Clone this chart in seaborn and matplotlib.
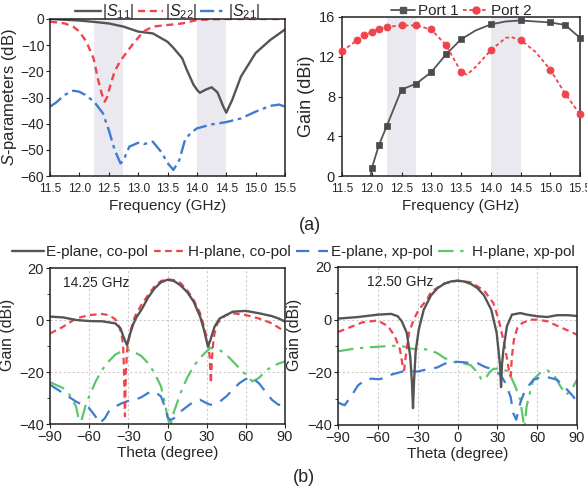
import matplotlib
matplotlib.use("Agg")
import matplotlib.pyplot as plt
import seaborn as sns
from matplotlib.lines import Line2D
from matplotlib.ticker import MultipleLocator

# ---------------- data ----------------
s11_f = [11.5, 11.75, 12.0, 12.25, 12.5, 12.75, 13.0, 13.1, 13.25, 13.5, 13.6, 13.75, 13.83, 13.94,
         14.0, 14.05, 14.15, 14.25, 14.35, 14.45, 14.5, 14.6, 14.75, 15.0, 15.25, 15.5]
s11_db = [0, -0.3, -0.6, -1.1, -1.7, -2.9, -4.8, -5.1, -5.5, -8.7, -11, -15, -19.5, -25,
          -27, -28.2, -27, -26.1, -28, -33.5, -35.8, -31, -22, -13, -8, -4]

s22_f = [11.5, 11.75, 11.9, 12.0, 12.12, 12.24, 12.32, 12.38, 12.43, 12.47, 12.52, 12.6, 12.69,
         12.75, 12.92, 13.09, 13.25, 13.5, 13.75, 14.0, 14.25, 14.5, 15.0, 15.5]
s22_db = [-1.0, -1.7, -3.0, -4.8, -8.7, -15, -23.3, -28.5, -31.6, -30, -25.9, -20, -16.3,
          -14.4, -9.3, -4.8, -2.9, -2.3, -1.7, -0.4, -0.1, 0, 0, 0]

s21_f = [11.5, 11.6, 11.75, 11.9, 12.0, 12.1, 12.25, 12.4, 12.5, 12.6, 12.7, 12.75, 12.85, 13.0,
         13.1, 13.25, 13.4, 13.5, 13.6, 13.7, 13.8, 13.9, 14.0, 14.25, 14.5, 14.75, 15.0, 15.25,
         15.4, 15.5]
s21_db = [-33.5, -32, -29, -27.4, -27.8, -29, -31.6, -36, -42.4, -50, -55.2, -54, -48.8, -47.3,
          -47.8, -46.9, -51, -55, -57.7, -54, -46, -43.5, -41.8, -40.3, -39.4, -38, -35.4, -33.2,
          -32.7, -33.5]

port1_f = [12.0, 12.12, 12.25, 12.5, 12.75, 13.0, 13.25, 13.5, 14.0, 14.5, 15.0, 15.25, 15.5]
port1_g = [0.77, 3.1, 5.0, 8.7, 9.3, 10.45, 12.25, 13.75, 15.25, 15.65, 15.45, 15.2, 13.9]
port1_line_f = [11.98, 12.0, 12.12, 12.25, 12.5, 12.75, 13.0, 13.25, 13.5, 13.75, 14.0, 14.25,
                14.5, 15.0, 15.25, 15.5]
port1_line_g = [0.0, 0.77, 3.1, 5.0, 8.7, 9.3, 10.45, 12.25, 13.75, 14.66, 15.25, 15.55,
                15.65, 15.45, 15.2, 13.9]

port2_f = [11.5, 11.75, 11.875, 12.0, 12.12, 12.25, 12.5, 12.75, 13.0, 13.25, 13.5, 14.0, 14.5,
           15.0, 15.25, 15.5]
port2_g = [12.55, 13.65, 14.15, 14.5, 14.8, 15.0, 15.15, 15.15, 14.75, 13.15, 10.5, 12.65, 13.7,
           10.7, 8.3, 6.2]
port2_line_f = [11.5, 11.75, 11.875, 12.0, 12.12, 12.25, 12.5, 12.75, 13.0, 13.25, 13.5, 13.6,
                13.75, 14.0, 14.25, 14.35, 14.5, 14.75, 15.0, 15.25, 15.5]
port2_line_g = [12.55, 13.65, 14.15, 14.5, 14.8, 15.0, 15.15, 15.15, 14.75, 13.15, 10.5, 10.2,
                11.0, 12.65, 13.9, 13.97, 13.7, 12.5, 10.7, 8.3, 6.2]

# 14.25 GHz patterns
a_eco_t = [-90, -80, -70, -60, -50, -40, -36, -33.7, -31, -28.6, -26, -23.5, -20, -15, -10, -5,
           0, 5, 10, 15, 20, 25, 28, 31, 33, 36, 40, 50, 60, 70, 80, 85, 90]
a_eco_g = [1.3, 1.0, 0, -0.4, -0.5, -1.3, -3.2, -6.5, -9.7, -5.2, -1.3, 1.3, 3.9, 8.5, 12.1,
           14.5, 15.5, 15.0, 13.3, 10.8, 7.1, 1.3, -3.9, -10.3, -7.5, -2.6, 0.6, 3.2, 3.5, 2.6,
           1.5, 0.6, -0.6]
a_hco_t = [-90, -80, -70, -60, -50, -45, -40, -37, -35, -34, -33.3, -32.6, -31.9, -31, -30, -28,
           -25, -20, -15, -10, -5, 0, 5, 10, 15, 20, 25, 28, 31, 32.3, 33.2, 34.2, 35, 36, 38,
           42, 45, 50, 60, 70, 80, 90]
a_hco_g = [-5.2, -2.6, 0.6, 1.9, 2.3, 1.9, 0.3, -2.5, -6, -10, -20, -37, -20, -12, -8, -3.5,
           1.3, 5.8, 9.5, 12.9, 15, 15.7, 15.3, 14.2, 11.5, 7.7, 2.6, -2.6, -9, -14, -24.3, -14,
           -9, -5.2, -1.5, 1.0, 1.9, 2.6, 1.9, 0.6, -1.3, -4.5]
a_exp_t = [-90, -80, -70, -60, -55, -52, -48, -45, -40, -35, -30, -25, -20, -15, -10, -5, -2, 0,
           2, 5, 10, 15, 20, 25, 30, 33, 40, 45, 50, 55, 60, 65, 70, 75, 80, 85, 88, 90]
a_exp_g = [-24.9, -28.1, -31.4, -33.9, -37.2, -39.7, -37.8, -35.2, -33.3, -32, -31.1, -30.7,
           -29.7, -28.1, -27.5, -29.4, -33.3, -37.2, -38.5, -37.8, -35.2, -33.3, -31.4, -30.7,
           -32, -32.6, -31.4, -29.4, -26.8, -24.3, -22.7, -22.3, -24.3, -27.5, -30.7, -32.6,
           -32.6, -30.7]
a_hxp_t = [-90, -80, -75, -70, -67, -65, -62, -60, -55, -50, -45, -40, -35, -30, -25, -20, -15,
           -10, -5, -2, 0, 2, 5, 10, 15, 20, 25, 30, 33, 40, 45, 50, 55, 60, 65, 70, 75, 80, 85,
           90]
a_hxp_g = [-23.9, -26.2, -28.8, -33.3, -41, -37, -31.5, -29.4, -23.6, -19.1, -15.9, -13.3, -12,
           -11.6, -12.4, -13.9, -16.5, -20.4, -25.5, -32, -37.2, -41, -35.2, -28.1, -22.3,
           -17.8, -14.6, -12, -10.7, -11.6, -13.3, -15.9, -18.5, -21, -23.6, -22.3, -19.7,
           -17.8, -16.8, -15.9]

# 12.50 GHz patterns
b_eco_t = [-90, -75, -60, -50, -45, -42, -38.2, -35.6, -34.3, -33.5, -32.8, -31.5, -29.2, -25.4,
           -20, -15, -10, -5, 0, 5, 10, 15, 20, 25.4, 29.5, 32.1, 32.8, 33.5, 34.6, 37.2, 41,
           47.3, 52.4, 60, 67.6, 75, 83, 90]
b_eco_g = [0.4, 1.0, 1.9, 2.2, 1.3, -0.6, -5, -14, -24, -33.6, -24, -12, -3.8, 3.8, 9.2, 12,
           13.6, 14.5, 14.8, 14.5, 13.6, 12, 9.2, 3.8, -5, -17.7, -25.6, -17, -11.4, -2.5, 1.9,
           2.5, 1.9, 1.3, 1.0, 1.7, 1.7, 1.4]
b_hco_t = [-90, -71.5, -60, -52.3, -47.2, -43.3, -41.2, -40.2, -38.5, -36.5, -33, -29.2, -23,
           -20, -10, 0, 10, 20, 27, 31, 34.5, 37, 39, 40, 41, 42.5, 45, 48.7, 55, 60, 67.6, 75,
           82.6, 90]
b_hco_g = [-4.7, -1, -0.3, -2.5, -6.3, -11.4, -17.7, -19.2, -12, -5, 0, 3.8, 7.6, 10.5, 13.8,
           14.8, 14.2, 11.1, 6.3, 0, -7.6, -14, -20, -21.5, -14, -7.6, -3.2, -1.3, 0, 0, -0.6,
           -2.3, -4, -5.7]
b_exp_t = [-90, -85, -80, -75, -70, -65, -60, -55, -50, -45, -40, -35, -30, -25, -20, -15, -10,
           -5, 0, 5, 10, 15, 20, 27, 32.5, 36, 40, 42, 44.2, 47.3, 51, 57.4, 62, 67.5, 75, 82.6,
           86, 90]
b_exp_g = [-31.5, -32.5, -29, -25, -23, -22.4, -22.6, -22.3, -20.9, -20.2, -19.5, -19.6, -19.7,
           -19.1, -18.7, -18.1, -16.8, -16, -16, -16.2, -16.5, -16.5, -17.8, -19, -21, -24,
           -29.3, -35.5, -38, -31.6, -26.6, -22.8, -22, -21.8, -22.8, -26.6, -28.5, -31]
b_hxp_t = [-90, -80, -70, -60, -50, -40, -35, -30, -25, -20, -15, -10, -5, 0, 5, 10, 14, 18,
           20.6, 24, 27, 32, 38.4, 43.5, 47.3, 49.8, 50.5, 52, 57, 62, 67.5, 72.5, 77.5, 82,
           86.5, 90]
b_hxp_g = [-12, -11.2, -10.6, -10.3, -9.9, -10.2, -11, -11.2, -11.2, -11.7, -12.8, -14.5, -15.7,
           -16.4, -16.6, -17.3, -19.5, -22.6, -22.8, -20, -18.7, -18.5, -19.7, -25.3, -30.4,
           -39.3, -41, -33, -22.8, -20.3, -19.2, -20.9, -25.3, -28.5, -26, -22.8]

freq_ticks = [11.5, 12.0, 12.5, 13.0, 13.5, 14.0, 14.5, 15.0, 15.5]
freq_ticklabels = ["11.5", "12.0", "12.5", "13.0", "13.5", "14.0", "14.5", "15.0", "15.5"]
theta_ticks = [-90, -60, -30, 0, 30, 60, 90]
bands = [(12.25, 12.75), (14.0, 14.5)]
pattern_legend = ["E-plane, co-pol", "H-plane, co-pol", "E-plane, xp-pol", "H-plane, xp-pol"]
sparam_legend = [r"$|\mathit{S}_{11}|$", r"$|\mathit{S}_{22}|$", r"$|\mathit{S}_{21}|$"]

# ---------------- style ----------------
sns.set_style("ticks")
plt.rcParams["font.family"] = ["Liberation Sans", "DejaVu Sans"]
plt.rcParams["mathtext.fontset"] = "custom"
plt.rcParams["mathtext.rm"] = "Liberation Sans"
plt.rcParams["mathtext.it"] = "Liberation Sans:italic"
plt.rcParams["axes.edgecolor"] = "#222222"
plt.rcParams["axes.linewidth"] = 1.1

GRAY = "#555555"
RED = "#f0434b"
BLUE = "#3d7cd0"
GREEN = "#5cc66b"
SHADE = "#e9e9ef"

LS_RED = (0, (3, 2))
LS_BLUE_S = (0, (6, 2, 1.5, 2))
LS_BLUE = (0, (6, 4))
LS_GREEN = (0, (7, 3, 1.5, 3))

fig = plt.figure(figsize=(5.87, 4.95), dpi=100)
W, H = 587.0, 495.0


def add_ax(l, r, t, b):
    return fig.add_axes([l / W, 1 - b / H, (r - l) / W, (b - t) / H])


def draw(ax, x, y, color, ls, lw):
    sns.lineplot(x=x, y=y, ax=ax, color=color, linestyle=ls, linewidth=lw,
                 estimator=None, sort=False)


# ---------- (a) left: S-parameters ----------
ax1 = add_ax(50, 285, 19, 176)
for lo, hi in bands:
    ax1.axvspan(lo, hi, color=SHADE, zorder=0, lw=0)
draw(ax1, s11_f, s11_db, GRAY, "-", 1.7)
draw(ax1, s22_f, s22_db, RED, LS_RED, 1.7)
draw(ax1, s21_f, s21_db, BLUE, LS_BLUE_S, 1.7)
ax1.set_xlim(11.5, 15.5)
ax1.set_ylim(-60, 0)
ax1.set_xticks(freq_ticks)
ax1.set_xticklabels(freq_ticklabels)
ax1.set_yticks([0, -10, -20, -30, -40, -50, -60])
ax1.tick_params(axis="x", direction="in", labelsize=8.6, length=3, pad=5)
ax1.tick_params(axis="y", direction="out", labelsize=10, length=3, pad=1)
ax1.set_xlabel("Frequency (GHz)", fontsize=11, labelpad=3)
ax1.set_ylabel(r"$\mathit{S}$-parameters (dB)", fontsize=12, labelpad=1)
h1 = [Line2D([], [], color=GRAY, lw=1.7),
      Line2D([], [], color=RED, lw=1.7, ls=LS_RED),
      Line2D([], [], color=BLUE, lw=1.7, ls=LS_BLUE_S)]
ax1.legend(h1, sparam_legend, loc="center", bbox_to_anchor=(0.5, 1.045), ncol=3,
           frameon=False, fontsize=11.5, handlelength=1.6, handletextpad=0.1,
           columnspacing=0.2, borderpad=0, borderaxespad=0)

# ---------- (a) right: gain ----------
ax2 = add_ax(342, 580, 17, 176)
for lo, hi in bands:
    ax2.axvspan(lo, hi, color=SHADE, zorder=0, lw=0)
draw(ax2, port1_line_f, port1_line_g, GRAY, "-", 1.3)
draw(ax2, port2_line_f, port2_line_g, RED, (0, (2, 1.5)), 1.3)
sns.scatterplot(x=port1_f, y=port1_g, ax=ax2, marker="s", s=22, color="#4a4a4a",
                edgecolor="#4a4a4a", linewidth=0.5, zorder=3, clip_on=False)
sns.scatterplot(x=port2_f, y=port2_g, ax=ax2, marker="o", s=26, color=RED,
                edgecolor=RED, linewidth=0.5, zorder=3, clip_on=False)
ax2.set_xlim(11.5, 15.5)
ax2.set_ylim(0, 16)
ax2.set_xticks(freq_ticks)
ax2.set_xticklabels(freq_ticklabels)
ax2.set_yticks([0, 4, 8, 12, 16])
ax2.tick_params(axis="x", direction="in", labelsize=8.6, length=3, pad=5)
ax2.tick_params(axis="y", direction="out", labelsize=10.5, length=3, pad=2)
ax2.set_xlabel("Frequency (GHz)", fontsize=11, labelpad=3)
ax2.set_ylabel("Gain (dBi)", fontsize=13, labelpad=3)
h2 = [Line2D([], [], color=GRAY, lw=1.3, marker="s", markersize=4.5),
      Line2D([], [], color=RED, lw=1.3, ls=(0, (2, 1.5)), marker="o", markersize=5)]
ax2.legend(h2, ["Port 1", "Port 2"], loc="center", bbox_to_anchor=(0.5, 1.035), ncol=2,
           frameon=False, fontsize=11, handlelength=1.6, handletextpad=0.2,
           columnspacing=0.3, borderpad=0, borderaxespad=0)


# ---------- (b) patterns ----------
def pattern_axes(ax, eco, hco, exp, hxp, label, lx):
    draw(ax, hxp[0], hxp[1], GREEN, LS_GREEN, 1.6)
    draw(ax, exp[0], exp[1], BLUE, LS_BLUE, 1.6)
    draw(ax, hco[0], hco[1], RED, LS_RED, 1.6)
    draw(ax, eco[0], eco[1], GRAY, "-", 1.7)
    ax.set_xlim(-90, 90)
    ax.set_ylim(-40, 20)
    ax.set_xticks(theta_ticks)
    ax.set_yticks([-40, -20, 0, 20])
    ax.yaxis.set_minor_locator(MultipleLocator(10))
    ax.grid(True, which="major", color="#cccccc", ls=(0, (2, 2)), lw=0.8)
    ax.set_axisbelow(True)
    ax.tick_params(axis="both", which="major", direction="out", labelsize=10.5,
                   length=3, pad=1.5)
    ax.tick_params(axis="y", which="minor", direction="out", length=2)
    ax.set_xlabel("Theta (degree)", fontsize=11, labelpad=1)
    ax.set_ylabel("Gain (dBi)", fontsize=11.5, labelpad=1)
    ax.yaxis.set_label_coords(ax.yaxis.label.get_position()[0], 0.57)
    ax.text(lx, 0.905, label, transform=ax.transAxes, fontsize=10, ha="left", va="center")


ax3 = add_ax(50, 285, 268, 424)
pattern_axes(ax3, (a_eco_t, a_eco_g), (a_hco_t, a_hco_g), (a_exp_t, a_exp_g),
             (a_hxp_t, a_hxp_g), "14.25 GHz", 0.055)
ax4 = add_ax(338, 577, 267, 425)
pattern_axes(ax4, (b_eco_t, b_eco_g), (b_hco_t, b_hco_g), (b_exp_t, b_exp_g),
             (b_hxp_t, b_hxp_g), "12.50 GHz", 0.121)
for ax in (ax3, ax4):
    ax.yaxis.set_label_coords(-0.15, 0.57)

h3 = [Line2D([], [], color=GRAY, lw=1.7),
      Line2D([], [], color=RED, lw=1.6, ls=LS_RED),
      Line2D([], [], color=BLUE, lw=1.6, ls=LS_BLUE),
      Line2D([], [], color=GREEN, lw=1.6, ls=LS_GREEN)]
fig.legend(h3, pattern_legend, loc="center", bbox_to_anchor=(0.5, 1 - 252 / H), ncol=4,
           frameon=False, fontsize=11, handlelength=2.1, handletextpad=0.15,
           columnspacing=0.35, borderpad=0, borderaxespad=0)

fig.text(310 / W, 1 - 226 / H, "(a)", fontsize=13, ha="center", va="center")
fig.text(303.5 / W, 1 - 477.5 / H, "(b)", fontsize=13, ha="center", va="center")

fig.savefig("out.png", dpi=100)
